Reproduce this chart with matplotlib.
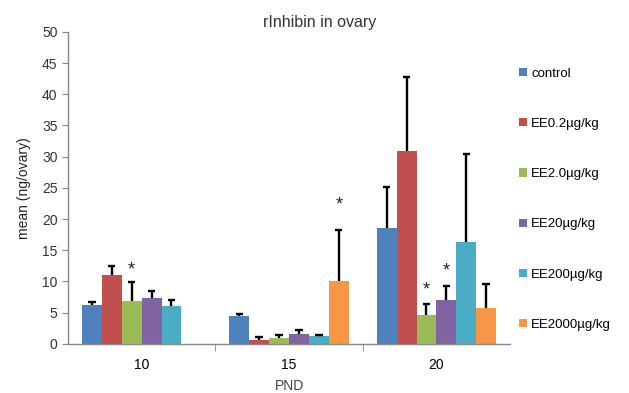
import matplotlib
matplotlib.use("Agg")
import matplotlib.pyplot as plt
import numpy as np

plt.rcParams['font.family'] = ['Liberation Sans', 'DejaVu Sans']

groups = ["10", "15", "20"]
series = ["control", "EE0.2\u00b5g/kg", "EE2.0\u00b5g/kg", "EE20\u00b5g/kg", "EE200\u00b5g/kg", "EE2000\u00b5g/kg"]
colors = ["#4F81BD", "#C0504D", "#9BBB59", "#8064A2", "#4BACC6", "#F79646"]

# mean values per series across groups (PND 10, 15, 20)
means = [
    [6.2, 4.5, 18.6],
    [11.1, 0.6, 30.9],
    [6.8, 0.9, 4.7],
    [7.3, 1.6, 7.1],
    [6.1, 1.2, 16.4],
    [0.0, 10.1, 5.7],
]
# upper error bar tops
err_tops = [
    [6.7, 4.8, 25.2],
    [12.5, 1.1, 42.7],
    [9.9, 1.4, 6.4],
    [8.5, 2.2, 9.3],
    [7.0, 1.4, 30.4],
    [0.0, 18.2, 9.6],
]
# significance stars: (series index, group index, y position)
stars = [(2, 0, 11.9), (5, 1, 22.3), (2, 2, 8.7), (3, 2, 11.6)]

fig = plt.figure(figsize=(6.29, 3.93), dpi=100)
ax = fig.add_axes([0.108, 0.125, 0.703, 0.794])

x = np.arange(len(groups))
w = 0.135
cap = 0.025
n = len(series)
for i in range(n):
    xs = x + (i - (n - 1) / 2) * w
    m = np.array(means[i])
    t = np.array(err_tops[i])
    ax.bar(xs, m, width=w, color=colors[i], label=series[i], zorder=2)
    mask = m > 0
    ax.vlines(xs[mask], m[mask], t[mask], color='black', linewidth=1.7, zorder=3)
    ax.hlines(t[mask], xs[mask] - cap, xs[mask] + cap, color='black', linewidth=1.7, zorder=3)

for si, gi, yv in stars:
    xs = x[gi] + (si - (n - 1) / 2) * w
    ax.text(xs, yv, "*", ha='center', va='center', fontsize=13, color='#222222')

ax.set_xlim(-0.5, 2.5)
ax.set_ylim(0, 50)
ax.set_yticks(np.arange(0, 51, 5))
ax.set_xticks(x)
ax.set_xticklabels(groups)
ax.set_xticks([0.5, 1.5], minor=True)
ax.tick_params(axis='x', which='major', length=0, labelsize=10, pad=10)
ax.tick_params(axis='x', which='minor', length=5, color='#888888', direction='out')
ax.tick_params(axis='y', length=4, color='#888888', labelsize=10, labelcolor='#333333')
for s in ['top', 'right']:
    ax.spines[s].set_visible(False)
for s in ['left', 'bottom']:
    ax.spines[s].set_color('#888888')
    ax.spines[s].set_linewidth(1.0)

ax.set_xlabel("PND", fontsize=10, color='#444444', labelpad=5)
ax.set_ylabel("mean (ng/ovary)", fontsize=10, color='#222222', labelpad=8)
fig.text(320 / 629, 1 - 22 / 393, "rInhibin in ovary", ha='center', va='center',
         fontsize=11.5, color='#333333')

leg = ax.legend(loc='upper left', bbox_to_anchor=(1.0, 0.915), frameon=False,
                fontsize=9.5, handlelength=0.6, handleheight=0.6, handletextpad=0.3,
                labelspacing=2.9, borderaxespad=0.3)

fig.savefig("out.png", dpi=100)
